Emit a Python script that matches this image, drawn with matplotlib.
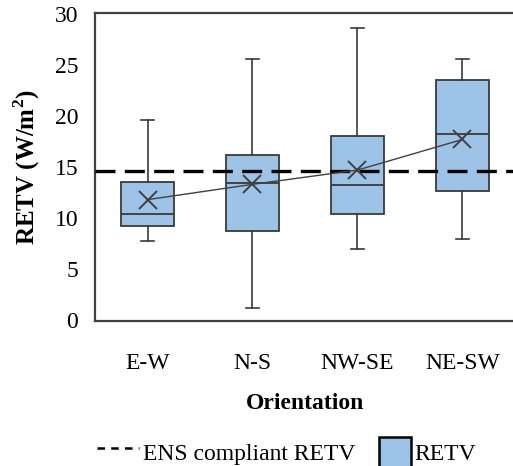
import matplotlib
matplotlib.use('Agg')
from matplotlib import pyplot as plt
from matplotlib.lines import Line2D
from matplotlib.patches import Patch, Rectangle
from matplotlib.legend_handler import HandlerPatch

orientations = ['E-W', 'N-S', 'NW-SE', 'NE-SW']
whis_low = [7.7, 1.2, 7.0, 7.9]
q1 = [9.2, 8.7, 10.4, 12.6]
medians = [10.4, 13.4, 13.2, 18.2]
q3 = [13.5, 16.2, 18.0, 23.5]
whis_high = [19.6, 25.6, 28.6, 25.6]
means = [11.8, 13.3, 14.7, 17.7]
ens_retv = 14.6

plt.rcParams['font.family'] = ['Liberation Serif', 'DejaVu Serif']

fig = plt.figure(figsize=(5.13, 4.66), dpi=100)
ax = fig.add_axes([95 / 513, 1 - 321 / 466, 420 / 513, 308 / 466])

stats = []
for i, name in enumerate(orientations):
    stats.append({'label': name, 'whislo': whis_low[i], 'q1': q1[i], 'med': medians[i],
                  'q3': q3[i], 'whishi': whis_high[i], 'mean': means[i], 'fliers': []})

pos = list(range(1, len(orientations) + 1))
edge = '#3a3a3a'
ax.bxp(stats, positions=pos, widths=0.5, patch_artist=True, showfliers=False,
       boxprops=dict(facecolor='#9dc3e6', edgecolor=edge, linewidth=1.3),
       medianprops=dict(color=edge, linewidth=1.3),
       whiskerprops=dict(color=edge, linewidth=1.2),
       capprops=dict(color=edge, linewidth=1.2),
       capwidths=0.13, zorder=2)

ax.plot(pos, means, color='#404040', linewidth=1.0, marker='x', markersize=13,
        markeredgewidth=1.4, markeredgecolor='#404040', zorder=4)
ax.axhline(ens_retv, color='black', linewidth=2.4, dashes=(6, 2.8), zorder=3)

ax.set_xlim(0.5, 4.5)
ax.set_ylim(-0.1, 30.1)
ax.set_yticks(range(0, 31, 5))
ax.set_xticks(pos)
ax.set_xticklabels(orientations)
ax.tick_params(axis='both', labelsize=17, length=0)
ax.tick_params(axis='x', pad=23)
ax.tick_params(axis='y', pad=12)
for s in ax.spines.values():
    s.set_color('#404040')
    s.set_linewidth(1.6)

ax.set_ylabel('RETV (W/m$^\\mathregular{2}$)', fontsize=18, fontweight='bold', labelpad=9)
ax.set_xlabel('Orientation', fontsize=17, fontweight='bold', labelpad=14)


# smaller square for the box handle, pushed to the right of its slot
def small_square(legend, orig_handle, xdescent, ydescent, width, height, fontsize):
    w, h = 23, 21
    return Rectangle((-xdescent + width - w, -ydescent + (height - h) / 2), w, h)


handles = [Line2D([0], [0], color='black', linewidth=1.8, dashes=(3, 2.5)),
           Patch(facecolor='#9dc3e6', edgecolor='black', linewidth=1.8)]
fig.legend(handles, ['ENS compliant RETV', 'RETV'], loc='center', bbox_to_anchor=(0.558, 0.03),
           ncol=2, frameon=False, fontsize=17, handlelength=1.8, handleheight=1.6,
           handletextpad=0.15, columnspacing=0.55,
           handler_map={Patch: HandlerPatch(patch_func=small_square)})

fig.savefig('out.png', dpi=100)
